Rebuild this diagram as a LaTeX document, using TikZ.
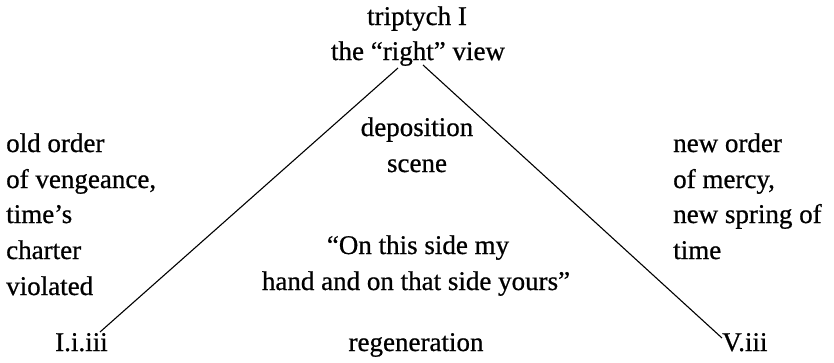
\documentclass[tikz,border=0pt]{standalone}
\usepackage{fontspec}
\setmainfont[BoldFont=Liberation Serif,BoldFeatures={FakeBold=0.7}]{Liberation Serif}
\begin{document}
\begin{tikzpicture}[x=1pt,y=-1pt,
  lbl/.style={inner sep=0pt,font=\fontsize{27}{32}\selectfont\bfseries},
  ctr/.style={lbl,anchor=base},
  lft/.style={lbl,anchor=base west},
  edge/.style={line width=1.1pt}]
\useasboundingbox (0,0) rectangle (834,362);
% top
\node[ctr] (t1) at (417,25) {triptych I};
\node[ctr] (t2) at (418,60) {the “right” view};
% centre
\node[ctr] (c1) at (417,136) {deposition};
\node[ctr] (c2) at (417,172) {scene};
\node[ctr] (c3) at (418,254) {“On this side my};
\node[ctr] (c4) at (416,290) {hand and on that side yours”};
\node[ctr] (c5) at (416,351) {regeneration};
% left
\node[lft] (l1) at (6,152) {old order};
\node[lft] (l2) at (6,188) {of vengeance,};
\node[lft] (l3) at (6,223) {time’s};
\node[lft] (l4) at (6,259) {charter};
\node[lft] (l5) at (6,295) {violated};
\node[lft] (l6) at (55,351) {I.i.iii};
% right
\node[lft] (r1) at (673,152) {new order};
\node[lft] (r2) at (673,188) {of mercy,};
\node[lft] (r3) at (673,223) {new spring of};
\node[lft] (r4) at (673,259) {time};
\node[lft] (r5) at (722,351) {V.iii};
% connectors
\coordinate (aL) at (398,68);
\coordinate (aR) at (423,65);
\coordinate (fL) at (100,332);
\coordinate (fR) at (722,338);
\draw[edge] (aL) -- (fL);
\draw[edge] (aR) -- (fR);
\end{tikzpicture}
\end{document}
